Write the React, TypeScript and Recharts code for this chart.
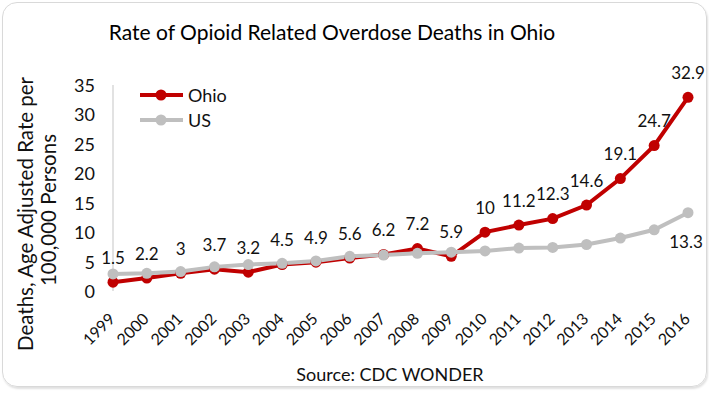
import React from 'react';
import { LineChart, Line, XAxis, YAxis, Legend, LabelList } from 'recharts';

const years = ['1999', '2000', '2001', '2002', '2003', '2004', '2005', '2006', '2007', '2008', '2009', '2010', '2011', '2012', '2013', '2014', '2015', '2016'];
const ohio = [1.5, 2.2, 3, 3.7, 3.2, 4.5, 4.9, 5.6, 6.2, 7.2, 5.9, 10, 11.2, 12.3, 14.6, 19.1, 24.7, 32.9];
const us = [2.9, 3.0, 3.3, 4.1, 4.5, 4.7, 5.1, 5.9, 6.1, 6.4, 6.6, 6.8, 7.3, 7.4, 7.9, 9.0, 10.4, 13.3];
const yTicks = [0, 5, 10, 15, 20, 25, 30, 35];
const boundaryTicks = [0, 1, 2, 3, 4, 5, 6, 7, 8, 9, 10, 11, 12, 13, 14, 15, 16, 17, 18];

const data = years.map((year, i) => ({ year, Ohio: ohio[i], US: us[i] }));

const FONT = 'Lato, "Open Sans", sans-serif';
const TEXT = '#111111';
const OHIO_COLOR = '#C00000';
const US_COLOR = '#BFBFBF';
const AXIS_COLOR = '#D9D9D9';

const XTick = (props: any) => {
  const { x, y, payload } = props;
  const ax = x + 3;
  const ay = y + 29;
  return (
    <text
      x={ax}
      y={ay}
      textAnchor="end"
      transform={`rotate(-45, ${ax}, ${ay})`}
      fontFamily={FONT}
      fontSize={16}
      fill={TEXT}
    >
      {payload.value}
    </text>
  );
};

const YTick = (props: any) => {
  const { y, payload } = props;
  return (
    <text x={95} y={y} textAnchor="end" dominantBaseline="central" fontFamily={FONT} fontSize={18} fill={TEXT}>
      {payload.value}
    </text>
  );
};

const OhioLabel = (props: any) => {
  const { x, y, value } = props;
  return (
    <text x={x} y={y - 25} textAnchor="middle" dominantBaseline="central" fontFamily={FONT} fontSize={17} fill={TEXT}>
      {value}
    </text>
  );
};

const UsLabel = (props: any) => {
  const { x, y, value, index } = props;
  if (index !== us.length - 1) return null;
  return (
    <text x={x - 2} y={y + 29} textAnchor="middle" dominantBaseline="central" fontFamily={FONT} fontSize={17} fill={TEXT}>
      {value}
    </text>
  );
};

const LegendContent = (props: any) => {
  const { payload } = props;
  return (
    <svg width={130} height={50} style={{ display: 'block', overflow: 'visible' }}>
      {(payload || []).map((p: any, i: number) => (
        <g key={p.value}>
          <line x1={2} x2={45} y1={11 + i * 25} y2={11 + i * 25} stroke={p.color} strokeWidth={4} />
          <circle cx={23} cy={11 + i * 25} r={5.5} fill={p.color} />
          <text x={50} y={11 + i * 25} dominantBaseline="central" fontFamily={FONT} fontSize={18} fill={TEXT}>
            {p.value}
          </text>
        </g>
      ))}
    </svg>
  );
};

export default function App() {
  return (
    <div style={{ position: 'absolute', left: 0, top: 0, width: 709, height: 393, background: '#fff', overflow: 'hidden' }}>
      <div
        style={{
          position: 'absolute',
          left: 2,
          top: 2,
          width: 703,
          height: 383,
          border: '1px solid #D9D9D9',
          borderRadius: 15,
          boxShadow: '1px 2px 2px rgba(0,0,0,0.12)',
        }}
      />
      <svg width={709} height={393} style={{ position: 'absolute', left: 0, top: 0 }}>
        <text x={332} y={31} textAnchor="middle" dominantBaseline="central" fontFamily={FONT} fontSize={21} fill="#000">
          Rate of Opioid Related Overdose Deaths in Ohio
        </text>
        <text
          x={25}
          y={214}
          textAnchor="middle"
          dominantBaseline="central"
          transform="rotate(-90, 25, 214)"
          fontFamily={FONT}
          fontSize={20.5}
          fill={TEXT}
        >
          Deaths, Age Adjusted Rate per
        </text>
        <text
          x={48}
          y={210}
          textAnchor="middle"
          dominantBaseline="central"
          transform="rotate(-90, 48, 210)"
          fontFamily={FONT}
          fontSize={20.5}
          fill={TEXT}
        >
          100,000 Persons
        </text>
        <text x={390} y={374} textAnchor="middle" dominantBaseline="central" fontFamily={FONT} fontSize={18} fill={TEXT}>
          Source: CDC WONDER
        </text>
      </svg>
      <div style={{ position: 'absolute', left: 0, top: 0 }}>
        <LineChart width={709} height={393} data={data} margin={{ top: 85, right: 21, bottom: 42, left: 53 }}>
          <XAxis
            xAxisId="bounds"
            type="number"
            domain={[0, 18]}
            ticks={boundaryTicks}
            allowDataOverflow
            height={0}
            tick={false}
            tickLine={{ stroke: AXIS_COLOR, strokeWidth: 1 }}
            tickSize={5}
            axisLine={{ stroke: AXIS_COLOR, strokeWidth: 1.5 }}
          />
          <XAxis
            dataKey="year"
            xAxisId="cat"
            height={60}
            axisLine={false}
            tickLine={false}
            tickSize={0}
            tickMargin={0}
            interval={0}
            tick={<XTick />}
          />
          <YAxis
            width={60}
            domain={[0, 35]}
            ticks={yTicks}
            tickLine={false}
            axisLine={{ stroke: AXIS_COLOR, strokeWidth: 1.5 }}
            tick={<YTick />}
          />
          <Legend
            layout="vertical"
            align="center"
            verticalAlign="middle"
            wrapperStyle={{ left: 138, top: 84, width: 130, height: 50 }}
            content={<LegendContent />}
          />
          <Line
            xAxisId="cat"
            dataKey="Ohio"
            name="Ohio"
            stroke={OHIO_COLOR}
            strokeWidth={4}
            dot={{ r: 5.5, fill: OHIO_COLOR, stroke: 'none' }}
            activeDot={false}
            isAnimationActive={false}
          >
            <LabelList dataKey="Ohio" content={<OhioLabel />} />
          </Line>
          <Line
            xAxisId="cat"
            dataKey="US"
            name="US"
            stroke={US_COLOR}
            strokeWidth={4}
            dot={{ r: 5.5, fill: US_COLOR, stroke: 'none' }}
            activeDot={false}
            isAnimationActive={false}
          >
            <LabelList dataKey="US" content={<UsLabel />} />
          </Line>
        </LineChart>
      </div>
    </div>
  );
}
